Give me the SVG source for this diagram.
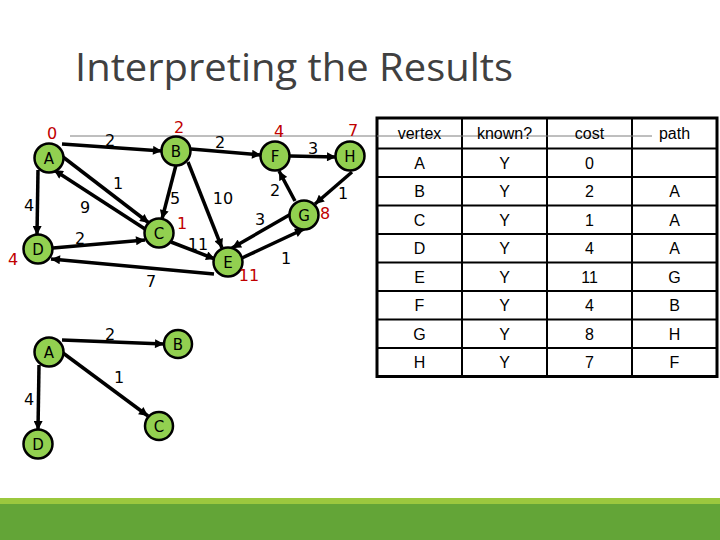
<svg xmlns="http://www.w3.org/2000/svg" width="720" height="540" viewBox="0 0 720 540">
<defs>
<marker id="arr" viewBox="0 0 10 10" refX="10" refY="5" markerWidth="10" markerHeight="9" markerUnits="userSpaceOnUse" orient="auto">
<path d="M0,0 L10,5 L0,10 z" fill="#000"/>
</marker>
</defs>
<style>
.title{font-family:"Open Sans","Liberation Sans",sans-serif;font-size:39px;fill:#404040}
.node circle{fill:#92D050;stroke:#000;stroke-width:2.5}
.node text{font-family:"DejaVu Sans","Liberation Sans",sans-serif;font-size:15px;fill:#000;text-anchor:middle}
.edges line{stroke:#000;stroke-width:3.5;marker-end:url(#arr)}
.w{font-family:"DejaVu Sans","Liberation Sans",sans-serif;font-size:16px;fill:#000;text-anchor:middle}
.d{font-family:"DejaVu Sans","Liberation Sans",sans-serif;font-size:16px;fill:#C00000;text-anchor:middle}
.t{font-family:"Liberation Sans",Arial,sans-serif;font-size:16px;fill:#000;text-anchor:middle}
.grid line{stroke:#000;stroke-width:2}
</style>
<rect width="720" height="540" fill="#fff"/>
<text class="title" x="75" y="81" textLength="438" lengthAdjust="spacingAndGlyphs">Interpreting the Results</text>
<line x1="70" y1="136" x2="652" y2="136" stroke="#7f7f7f" stroke-width="1"/>

<g id="table">
<rect x="377" y="118" width="340" height="258.5" fill="#fff" stroke="#000" stroke-width="3"/>
<g class="grid">
<line x1="462" y1="118" x2="462" y2="376.5"/>
<line x1="547" y1="118" x2="547" y2="376.5"/>
<line x1="632" y1="118" x2="632" y2="376.5"/>
<line x1="377" y1="148.5" x2="717" y2="148.5"/>
<line x1="377" y1="177" x2="717" y2="177"/>
<line x1="377" y1="205.5" x2="717" y2="205.5"/>
<line x1="377" y1="234" x2="717" y2="234"/>
<line x1="377" y1="262.5" x2="717" y2="262.5"/>
<line x1="377" y1="291" x2="717" y2="291"/>
<line x1="377" y1="319.5" x2="717" y2="319.5"/>
<line x1="377" y1="348" x2="717" y2="348"/>
</g>
<line x1="377" y1="136" x2="652" y2="136" stroke="#7f7f7f" stroke-width="1"/>
<g class="t">
<text x="419.5" y="139">vertex</text><text x="504.5" y="139">known?</text><text x="589.5" y="139">cost</text><text x="674.5" y="139">path</text>
<text x="419.5" y="168.5">A</text><text x="504.5" y="168.5">Y</text><text x="589.5" y="168.5">0</text>
<text x="419.5" y="197">B</text><text x="504.5" y="197">Y</text><text x="589.5" y="197">2</text><text x="674.5" y="197">A</text>
<text x="419.5" y="225.5">C</text><text x="504.5" y="225.5">Y</text><text x="589.5" y="225.5">1</text><text x="674.5" y="225.5">A</text>
<text x="419.5" y="254">D</text><text x="504.5" y="254">Y</text><text x="589.5" y="254">4</text><text x="674.5" y="254">A</text>
<text x="419.5" y="282.5">E</text><text x="504.5" y="282.5">Y</text><text x="589.5" y="282.5">11</text><text x="674.5" y="282.5">G</text>
<text x="419.5" y="311">F</text><text x="504.5" y="311">Y</text><text x="589.5" y="311">4</text><text x="674.5" y="311">B</text>
<text x="419.5" y="339.5">G</text><text x="504.5" y="339.5">Y</text><text x="589.5" y="339.5">8</text><text x="674.5" y="339.5">H</text>
<text x="419.5" y="368">H</text><text x="504.5" y="368">Y</text><text x="589.5" y="368">7</text><text x="674.5" y="368">F</text>
</g>
</g>

<g id="connectors" class="edges">
<line x1="62" y1="144" x2="162" y2="151"/>
<line x1="63" y1="157" x2="149" y2="223"/>
<line x1="145" y1="229" x2="54" y2="170"/>
<line x1="38" y1="170" x2="37" y2="235"/>
<line x1="53" y1="248" x2="145" y2="240"/>
<line x1="214" y1="274" x2="51" y2="259"/>
<line x1="176" y1="165" x2="162" y2="219"/>
<line x1="188" y1="162" x2="222" y2="248"/>
<line x1="171" y1="242" x2="215" y2="259"/>
<line x1="191" y1="149" x2="261" y2="155"/>
<line x1="290" y1="156" x2="336" y2="157"/>
<line x1="352" y1="172" x2="315" y2="204"/>
<line x1="295" y1="201" x2="279" y2="171"/>
<line x1="291" y1="214" x2="232" y2="248"/>
<line x1="242" y1="258" x2="304" y2="229"/>
<line x1="62" y1="340" x2="164" y2="344"/>
<line x1="63" y1="353" x2="148" y2="416"/>
<line x1="39" y1="365" x2="38" y2="430"/>
</g>

<g id="node-A" class="node"><circle cx="49" cy="158" r="14.5"/><text x="49" y="163.5">A</text></g>
<g id="node-B" class="node"><circle cx="176" cy="151" r="14.5"/><text x="176" y="156.5">B</text></g>
<g id="node-C" class="node"><circle cx="159" cy="233" r="14.5"/><text x="159" y="238.5">C</text></g>
<g id="node-D" class="node"><circle cx="38" cy="249" r="14.5"/><text x="38" y="254.5">D</text></g>
<g id="node-E" class="node"><circle cx="228" cy="262" r="14.5"/><text x="228" y="267.5">E</text></g>
<g id="node-F" class="node"><circle cx="275" cy="156" r="14.5"/><text x="275" y="161.5">F</text></g>
<g id="node-G" class="node"><circle cx="304" cy="215" r="14.5"/><text x="304" y="220.5">G</text></g>
<g id="node-H" class="node"><circle cx="350" cy="156" r="14.5"/><text x="350" y="161.5">H</text></g>

<g id="node-A2" class="node"><circle cx="49" cy="352" r="14.5"/><text x="49" y="357.5">A</text></g>
<g id="node-B2" class="node"><circle cx="178" cy="344" r="14"/><text x="178" y="349.5">B</text></g>
<g id="node-C2" class="node"><circle cx="159" cy="426" r="14"/><text x="159" y="431.5">C</text></g>
<g id="node-D2" class="node"><circle cx="38" cy="444" r="14.5"/><text x="38" y="449.5">D</text></g>

<g id="edge-labels" class="w">
<text x="110" y="146">2</text>
<text x="118" y="189">1</text>
<text x="85" y="213">9</text>
<text x="29" y="211">4</text>
<text x="80" y="244">2</text>
<text x="151" y="287">7</text>
<text x="175" y="204">5</text>
<text x="223" y="204">10</text>
<text x="198" y="250">11</text>
<text x="220" y="148">2</text>
<text x="313" y="154">3</text>
<text x="275" y="196">2</text>
<text x="343" y="199">1</text>
<text x="260" y="225">3</text>
<text x="286" y="264">1</text>
<text x="110" y="340">2</text>
<text x="119" y="383">1</text>
<text x="29" y="405">4</text>
</g>

<g id="dist-labels" class="d">
<text x="52" y="139">0</text>
<text x="179" y="133">2</text>
<text x="279" y="137">4</text>
<text x="353" y="136">7</text>
<text x="182" y="229">1</text>
<text x="13" y="265">4</text>
<text x="325" y="219">8</text>
<text x="249" y="281">11</text>
</g>

<rect x="0" y="498" width="720" height="6" fill="#9BC83E"/>
<rect x="0" y="504" width="720" height="36" fill="#63A537"/>
</svg>
